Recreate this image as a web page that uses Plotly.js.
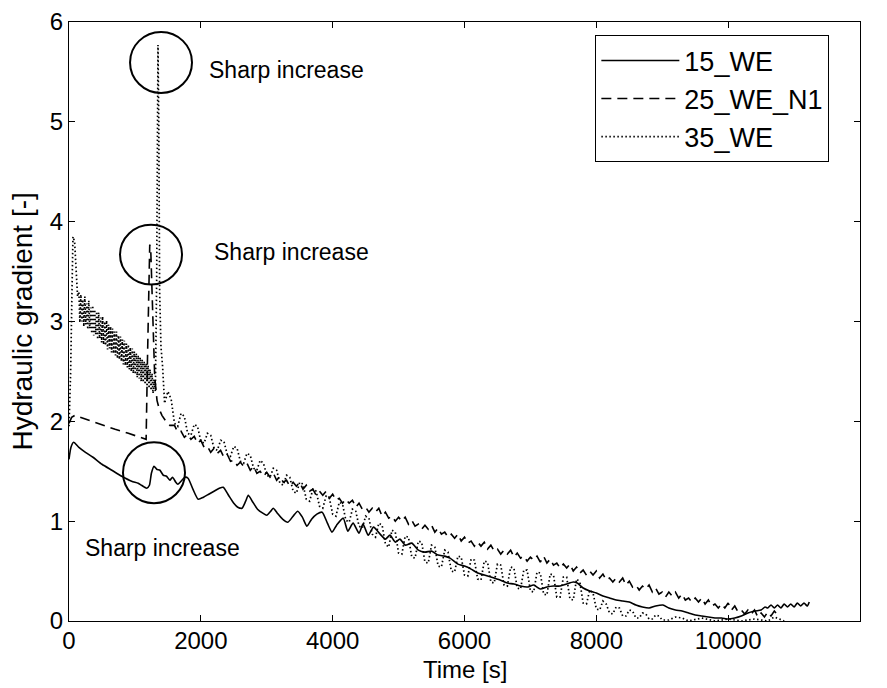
<!DOCTYPE html>
<html>
<head>
<meta charset="utf-8">
<script src="https://cdn.plot.ly/plotly-3.0.1.min.js"></script>
<style>
  html, body { margin: 0; padding: 0; background: #fff; }
  #chart { width: 887px; height: 688px; }
</style>
</head>
<body>
<div id="chart"></div>
<script>
// Time [s] and hydraulic gradient [-] for each test

const t15 = [0, 30, 70, 150, 250, 364, 500, 650, 800, 950, 1050, 1100, 1180, 1220, 1250, 1290, 1330, 1380, 1430, 1480, 1530, 1570, 1620, 1650, 1700, 1760, 1806, 1880, 1960, 2040, 2120, 2200, 2280, 2340, 2420, 2500, 2560, 2625, 2680, 2720, 2780, 2860, 2940, 3000, 3060, 3100, 3160, 3240, 3320, 3400, 3470, 3540, 3610, 3680, 3760, 3840, 3920, 3990, 4060, 4160, 4230, 4310, 4400, 4460, 4540, 4620, 4720, 4800, 4870, 4950, 5020, 5100, 5200, 5300, 5400, 5500, 5600, 5700, 5780, 5900, 6000, 6100, 6200, 6300, 6400, 6540, 6650, 6750, 6850, 6950, 7050, 7150, 7250, 7350, 7450, 7550, 7650, 7710, 7800, 7900, 8000, 8100, 8200, 8300, 8400, 8500, 8600, 8700, 8800, 8900, 9010, 9100, 9200, 9300, 9400, 9500, 9600, 9700, 9800, 9900, 10000, 10100, 10200, 10300, 10400, 10500, 10560, 10600, 10650, 10700, 10750, 10800, 10850, 10900, 10950, 11000, 11050, 11100, 11150, 11200, 11230];
const g15 = [1.62, 1.74, 1.79, 1.74, 1.69, 1.64, 1.57, 1.51, 1.45, 1.40, 1.38, 1.36, 1.33, 1.36, 1.48, 1.55, 1.52, 1.51, 1.46, 1.45, 1.41, 1.44, 1.39, 1.37, 1.40, 1.44, 1.43, 1.32, 1.22, 1.24, 1.27, 1.30, 1.33, 1.34, 1.26, 1.18, 1.14, 1.13, 1.20, 1.26, 1.20, 1.12, 1.08, 1.06, 1.10, 1.13, 1.08, 1.02, 0.99, 1.05, 1.10, 1.04, 0.95, 1.02, 1.07, 1.09, 0.98, 0.89, 0.96, 1.03, 0.90, 0.98, 0.88, 0.97, 0.86, 0.94, 0.87, 0.82, 0.86, 0.79, 0.82, 0.76, 0.78, 0.71, 0.69, 0.70, 0.66, 0.65, 0.63, 0.57, 0.55, 0.52, 0.48, 0.46, 0.44, 0.41, 0.38, 0.37, 0.35, 0.34, 0.36, 0.32, 0.34, 0.35, 0.35, 0.37, 0.39, 0.38, 0.33, 0.30, 0.28, 0.25, 0.23, 0.21, 0.20, 0.19, 0.16, 0.14, 0.13, 0.15, 0.16, 0.13, 0.11, 0.10, 0.08, 0.06, 0.05, 0.04, 0.03, 0.03, 0.02, 0.03, 0.05, 0.08, 0.10, 0.11, 0.14, 0.13, 0.16, 0.13, 0.16, 0.13, 0.17, 0.14, 0.17, 0.14, 0.18, 0.15, 0.18, 0.15, 0.19];

const t25 = [0, 40, 90, 300, 500, 700, 900, 1100, 1170, 1190, 1210, 1225, 1240, 1260, 1280, 1300, 1335, 1370, 1410, 1460, 1530,
  1600, 1650, 1700, 1750, 1800, 1850, 1900, 1950, 2000, 2050, 2100, 2150, 2200, 2250, 2300, 2350, 2400, 2450, 2500, 2550,
  2600, 2650, 2700, 2750, 2800, 2850, 2900, 2950, 3000, 3050, 3100, 3150, 3200, 3250, 3300, 3350, 3400, 3450, 3500, 3550,
  3600, 3650, 3700, 3750, 3800, 3850, 3900, 3950, 4000, 4050, 4100, 4150, 4200, 4250, 4300, 4350, 4400, 4450, 4500, 4550,
  4600, 4650, 4700, 4750, 4800, 4850, 4900, 4950, 5000, 5050, 5100, 5150, 5200, 5250, 5300, 5350, 5400, 5450, 5500, 5550,
  5600, 5650, 5700, 5750, 5800, 5850, 5900, 5950, 6000, 6050, 6100, 6150, 6200, 6250, 6300, 6350, 6400, 6450, 6500, 6550,
  6600, 6650, 6700, 6750, 6800, 6850, 6900, 6950, 7000, 7050, 7100, 7150, 7200, 7250, 7300, 7350, 7400, 7450, 7500, 7550,
  7600, 7650, 7700, 7750, 7800, 7850, 7900, 7950, 8000, 8050, 8100, 8150, 8200, 8250, 8300, 8350, 8400, 8450, 8500, 8550,
  8600, 8650, 8700, 8750, 8800, 8850, 8900, 8950, 9000, 9050, 9100, 9150, 9200, 9250, 9300, 9350, 9400, 9450, 9500, 9550,
  9600, 9650, 9700, 9750, 9800, 9850, 9900, 9950, 10000, 10050, 10100, 10150, 10200, 10250, 10300, 10350, 10400, 10450, 10500, 10550,
  10600, 10650, 10700, 10750];
const g25 = [1.98, 2.04, 2.06, 2.01, 1.96, 1.92, 1.88, 1.84, 1.82, 2.60, 3.30, 3.77, 3.72, 3.20, 2.70, 2.45, 2.21, 2.12, 2.06, 2.01, 1.96,
  1.96, 1.89, 1.90, 1.84, 1.87, 1.82, 1.85, 1.78, 1.81, 1.74, 1.75, 1.69, 1.73, 1.68, 1.71, 1.64, 1.67, 1.60, 1.61, 1.56,
  1.59, 1.55, 1.58, 1.51, 1.55, 1.48, 1.50, 1.45, 1.49, 1.44, 1.48, 1.41, 1.45, 1.39, 1.41, 1.35, 1.39, 1.35, 1.39, 1.32,
  1.36, 1.30, 1.32, 1.26, 1.30, 1.26, 1.30, 1.23, 1.27, 1.21, 1.23, 1.18, 1.22, 1.18, 1.21, 1.14, 1.18, 1.12, 1.14, 1.09,
  1.13, 1.09, 1.13, 1.05, 1.09, 1.03, 1.05, 1.00, 1.04, 1.00, 1.04, 0.97, 1.01, 0.95, 0.97, 0.92, 0.96, 0.92, 0.96, 0.89,
  0.93, 0.87, 0.89, 0.84, 0.87, 0.83, 0.87, 0.80, 0.84, 0.78, 0.80, 0.75, 0.79, 0.75, 0.79, 0.72, 0.76, 0.70, 0.72, 0.67,
  0.71, 0.67, 0.71, 0.64, 0.68, 0.63, 0.65, 0.60, 0.64, 0.61, 0.65, 0.59, 0.65, 0.58, 0.62, 0.56, 0.58, 0.53, 0.57, 0.53,
  0.57, 0.50, 0.54, 0.48, 0.51, 0.46, 0.50, 0.46, 0.50, 0.43, 0.47, 0.41, 0.43, 0.39, 0.43, 0.39, 0.43, 0.36, 0.40, 0.34,
  0.36, 0.31, 0.35, 0.32, 0.36, 0.29, 0.33, 0.27, 0.29, 0.24, 0.29, 0.25, 0.29, 0.23, 0.27, 0.21, 0.23, 0.19, 0.23, 0.19,
  0.23, 0.17, 0.21, 0.15, 0.17, 0.13, 0.17, 0.13, 0.18, 0.11, 0.15, 0.09, 0.11, 0.07, 0.11, 0.07, 0.11, 0.04, 0.08, 0.04,
  0.09, 0.05, 0.10, 0.06];

const t35 = [0, 25, 45, 60, 85, 110, 130,
  150, 165, 180, 195, 210, 225, 240, 255, 270, 285, 300, 315, 330, 345, 360, 375, 390, 405, 420, 435, 450, 465, 480, 495,
  510, 525, 540, 555, 570, 585, 600, 615, 630, 645, 660, 675, 690, 705, 720, 735, 750, 765, 780, 795, 810, 825, 840, 855,
  870, 885, 900, 915, 930, 945, 960, 975, 990, 1005, 1020, 1035, 1050, 1065, 1080, 1095, 1110, 1125, 1140, 1155, 1170, 1185,
  1200, 1215, 1230, 1245, 1260, 1275, 1290, 1310,
  1330, 1350, 1362, 1375, 1395, 1420,
  1450, 1500, 1550, 1600, 1650, 1700, 1750, 1800, 1850, 1900, 1950, 2000, 2050, 2100, 2150, 2200, 2250, 2300, 2350, 2400,
  2450, 2500, 2550, 2600, 2650, 2700, 2750, 2800, 2850, 2900, 2950, 3000, 3050, 3100, 3150, 3200, 3250, 3300, 3350, 3400,
  3450, 3500, 3550, 3600, 3650, 3700, 3750, 3800, 3850, 3900, 3950, 4000, 4050, 4100, 4150, 4200, 4250, 4300, 4350, 4400,
  4450, 4500, 4550, 4600, 4650, 4700, 4750, 4800, 4850, 4900, 4950, 5000, 5050, 5100, 5150, 5200, 5250, 5300, 5350, 5400,
  5450, 5500, 5550, 5600, 5650, 5700, 5750, 5800, 5850, 5900, 5950, 6000, 6050, 6100, 6150, 6200, 6250, 6300, 6350, 6400,
  6450, 6500, 6550, 6600, 6650, 6700, 6750, 6800, 6850, 6900, 6950, 7000, 7050, 7100, 7150, 7200, 7250, 7300, 7350, 7400,
  7450, 7500, 7550, 7600, 7650, 7700, 7750, 7800, 7850, 7900, 7950, 8000, 8050, 8100, 8150, 8200, 8250, 8300, 8350, 8400,
  8450, 8500, 8550, 8600, 8650, 8700, 8750, 8800, 8850, 8900, 8950, 9000, 9100, 9200, 9300, 9400, 9600, 9800, 10000, 10200,
  10400, 10600, 10700, 10850];
const g35 = [1.95, 2.50, 3.30, 3.85, 3.80, 3.40, 3.25,
  3.30, 2.99, 3.27, 3.00, 3.22, 2.95, 3.25, 2.97, 3.18, 2.92, 3.21, 2.93, 3.14, 2.88, 3.16, 2.86, 3.12, 2.87, 3.10, 2.82, 3.09, 2.83, 3.04, 2.79,
  3.05, 2.77, 3.00, 2.76, 3.01, 2.72, 2.97, 2.73, 2.95, 2.69, 2.93, 2.68, 2.90, 2.66, 2.90, 2.63, 2.86, 2.62, 2.85, 2.60, 2.82, 2.57, 2.81, 2.56,
  2.78, 2.54, 2.77, 2.52, 2.74, 2.50, 2.73, 2.48, 2.70, 2.47, 2.68, 2.44, 2.66, 2.43, 2.64, 2.40, 2.62, 2.39, 2.60, 2.37, 2.58, 2.35,
  2.56, 2.33, 2.52, 2.31, 2.48, 2.28, 2.42, 2.30,
  3.40, 5.77, 5.00, 3.30, 2.75, 2.55,
  2.18, 2.30, 2.22, 1.98, 1.95, 2.08, 2.05, 1.88, 1.86, 1.97, 1.95, 1.80, 1.78, 1.88, 1.86, 1.73, 1.71, 1.81, 1.80, 1.67,
  1.65, 1.75, 1.73, 1.60, 1.58, 1.68, 1.66, 1.53, 1.51, 1.61, 1.58, 1.46, 1.44, 1.53, 1.51, 1.38, 1.36, 1.46, 1.44, 1.30,
  1.28, 1.39, 1.37, 1.22, 1.20, 1.32, 1.30, 1.15, 1.13, 1.25, 1.23, 1.07, 1.05, 1.19, 1.17, 1.01, 0.99, 1.12, 1.10, 0.95,
  0.93, 1.05, 1.03, 0.87, 0.84, 0.98, 0.96, 0.77, 0.74, 0.91, 0.89, 0.68, 0.67, 0.85, 0.84, 0.64, 0.63, 0.80, 0.79, 0.59,
  0.58, 0.76, 0.74, 0.55, 0.54, 0.71, 0.69, 0.50, 0.49, 0.65, 0.64, 0.46, 0.45, 0.62, 0.61, 0.42, 0.41, 0.60, 0.59, 0.39,
  0.38, 0.57, 0.56, 0.36, 0.35, 0.54, 0.53, 0.33, 0.32, 0.51, 0.51, 0.30, 0.29, 0.49, 0.48, 0.27, 0.26, 0.47, 0.46, 0.24,
  0.24, 0.44, 0.44, 0.22, 0.21, 0.42, 0.39, 0.18, 0.17, 0.31, 0.28, 0.12, 0.11, 0.20, 0.17, 0.08, 0.07, 0.14, 0.13, 0.05,
  0.05, 0.11, 0.10, 0.03, 0.03, 0.08, 0.07, 0.02, 0.02, 0.06, 0.05, 0.01, 0.01, 0.04, 0.03, 0.00, 0.03, 0.00, 0.02, 0.00,
  0.02, 0.00, 0.04, 0.00];

const seriesNames = ['15_WE', '25_WE_N1', '35_WE'];
const xTickVals = [0, 2000, 4000, 6000, 8000, 10000, 12000];
const yTickVals = [0, 1, 2, 3, 4, 5, 6];
const xTitle = 'Time [s]';
const yTitle = 'Hydraulic gradient [-]';

// Circled events, given as [x0, x1, y0, y1] in data units, and their captions
const eventRings = [[926, 1866, 5.29, 5.90], [774, 1715, 3.37, 3.97], [819, 1760, 1.18, 1.79]];
const eventNotes = [[2094, 5.52], [2170, 3.70], [212, 0.73]];
const noteText = 'Sharp increase';

const FONT = 'Liberation Sans, Arial, Helvetica, sans-serif';

const lineStyles = [
  {color: '#000', width: 1.6, dash: 'solid', shape: 'spline', smoothing: 0.6},
  {color: '#000', width: 1.6, dash: '10px,6px'},
  {color: '#000', width: 1.7, dash: '1.5px,2.5px'}
];

const traces = [[t15, g15], [t25, g25], [t35, g35]].map(([t, g], i) => ({
  x: t, y: g,
  type: 'scatter', mode: 'lines',
  name: seriesNames[i],
  legendgroup: 'g' + i,
  line: lineStyles[i]
}));

const shapes = eventRings.map(([x0, x1, y0, y1]) => ({
  type: 'circle', xref: 'x', yref: 'y',
  x0: x0, x1: x1, y0: y0, y1: y1,
  line: {color: '#000', width: 2}
}));

const annotations = eventNotes.map(([x, y]) => ({
  x: x, y: y, xref: 'x', yref: 'y',
  text: noteText, showarrow: false,
  xanchor: 'left', yanchor: 'middle',
  font: {family: FONT, size: 23, color: '#000'}
}));

// Axis titles placed as paper-anchored text
annotations.push({
  x: 0.5, y: -0.081, xref: 'paper', yref: 'paper',
  text: xTitle, showarrow: false, xanchor: 'center', yanchor: 'middle',
  font: {family: FONT, size: 24, color: '#000'}
});
annotations.push({
  x: -0.0594, y: 0.5, xref: 'paper', yref: 'paper',
  text: yTitle, showarrow: false, textangle: -90,
  xanchor: 'center', yanchor: 'middle',
  font: {family: FONT, size: 28, color: '#000'}
});

const axisCommon = {
  showline: true, linecolor: '#000', linewidth: 1.2, mirror: 'ticks',
  ticks: 'inside', ticklen: 6, tickwidth: 1, tickcolor: '#000',
  showgrid: false, zeroline: false,
  tickfont: {family: FONT, size: 24, color: '#000'}
};

const layout = {
  width: 887, height: 688,
  margin: {l: 69, r: 27, t: 22, b: 67},
  paper_bgcolor: '#fff', plot_bgcolor: '#fff',
  showlegend: true,
  xaxis: Object.assign({}, axisCommon, {
    range: [0, 12000], tickvals: xTickVals, ticktext: xTickVals.map(String),
    ticklabelstandoff: -2
  }),
  yaxis: Object.assign({}, axisCommon, {
    range: [0, 6], tickvals: yTickVals, ticktext: yTickVals.map(String)
  }),
  legend: {
    x: 0.961, xanchor: 'right', y: 0.978, yanchor: 'top',
    bgcolor: '#fff', bordercolor: '#000', borderwidth: 1.2,
    font: {family: FONT, size: 27, color: '#000'},
    itemwidth: 78, tracegroupgap: 0
  },
  shapes: shapes,
  annotations: annotations
};

Plotly.newPlot('chart', traces, layout, {displayModeBar: false, staticPlot: true});
</script>
</body>
</html>
